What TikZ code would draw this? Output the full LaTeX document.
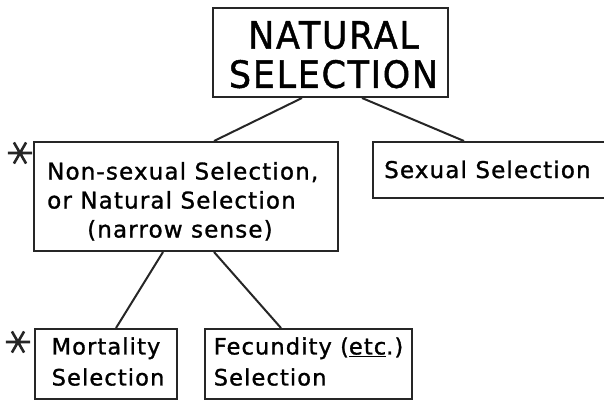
\documentclass[tikz,border=0pt]{standalone}
\usepackage{fontspec}
\setmainfont{DejaVu Sans}[LetterSpace=5, FakeBold=1.2]
\usetikzlibrary{calc}

\tikzset{
  box/.style={draw=black!85, line width=2pt, rectangle, inner sep=0pt, text=black},
  link/.style={draw=black!85, line width=2pt},
  starmark/.style={circle, inner sep=0pt, minimum size=24pt},
  spoke/.style={draw=black!85, line width=2.6pt},
  bigfont/.style={font=\fontsize{37.5}{38}\selectfont},
  midfont/.style={font=\fontsize{23}{29}\selectfont},
  lowfont/.style={font=\fontsize{22.5}{31}\selectfont}
}

\begin{document}
\begin{tikzpicture}[x=1pt,y=-1pt]
  \useasboundingbox (0,0) rectangle (604,400);

  % boxes
  \node[box, minimum width=235pt, minimum height=89pt] (top) at (330.5,52.5) {};
  \node[bigfont, inner sep=0pt, anchor=north] (toptitle) at ($(top.north)+(3,14)$)
    {\scalebox{0.93}[1]{\begin{tabular}{@{}c@{}}NATURAL\\SELECTION\end{tabular}}};
  \node[box, minimum width=304pt, minimum height=109pt] (nonsex) at (186,196.5) {};
  \node[midfont, inner sep=0pt, anchor=north west] (nonsextext) at ($(nonsex.north west)+(14,18)$)
    {\begin{tabular}{@{}l@{}}Non-sexual Selection,\\or Natural Selection\\\hspace*{40pt}(narrow sense)\end{tabular}};
  \node[box, minimum width=239pt, minimum height=56pt] (sexual) at (492.5,170) {};
  \node[midfont, anchor=base west, inner sep=0pt] (sexualtext) at ($(sexual.west)+(12,8)$) {Sexual Selection};
  \node[box, lowfont, align=center, minimum width=142pt, minimum height=69.5pt] (mort) at (106,363.75)
    {\raisebox{-2pt}{\begin{tabular}{@{}c@{}}Mortality\\\hspace*{4pt}Selection\end{tabular}}};
  \node[box, lowfont, align=left, minimum width=207pt, minimum height=69.5pt] (fec) at (308.5,363.75)
    {\raisebox{-2pt}{\begin{tabular}{@{}l@{}}Fecundity (\underline{etc}.)\\Selection\end{tabular}}};

  % connectors
  \draw[link] ($(top.south west)+(90,0)$) -- ($(nonsex.north west)+(181,0)$);
  \draw[link] ($(top.south west)+(150,0)$) -- ($(sexual.north west)+(92,0)$);
  \draw[link] ($(nonsex.south west)+(130,0)$) -- ($(mort.north west)+(82,0)$);
  \draw[link] ($(nonsex.south west)+(181,0)$) -- ($(fec.north west)+(77,0)$);

  % asterisks
  \node[starmark] (star1) at (20,153) {};
  \node[starmark] (star2) at (18,342) {};
  \foreach \s in {star1,star2}
    \draw[spoke] (\s.0) -- (\s.180) (\s.60) -- (\s.240) (\s.120) -- (\s.300);
\end{tikzpicture}
\end{document}
